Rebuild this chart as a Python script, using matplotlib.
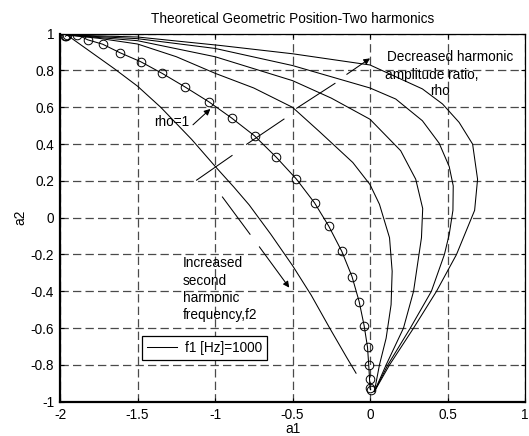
import matplotlib
matplotlib.use("Agg")
import matplotlib.pyplot as plt

plt.rcParams['font.family'] = ['Liberation Sans', 'DejaVu Sans']
plt.rcParams['lines.scale_dashes'] = False

# ---- data: geometric position of the two-harmonic coefficients (a1, a2) ----
# rho = 1 curve (drawn with circle markers at every sample)
a1_rho1 = [-1.965, -1.960, -1.955, -1.888, -1.822, -1.725, -1.614, -1.480, -1.340,
           -1.196, -1.040, -0.893, -0.745, -0.604, -0.477, -0.358, -0.266, -0.182,
           -0.116, -0.070, -0.038, -0.016, -0.008, -0.003, 0.000, 0.004]
a2_rho1 = [0.986, 0.990, 0.992, 0.995, 0.967, 0.943, 0.897, 0.848, 0.784,
           0.712, 0.630, 0.542, 0.445, 0.328, 0.212, 0.081, -0.046, -0.183,
           -0.320, -0.456, -0.586, -0.704, -0.803, -0.876, -0.927, -0.935]

# higher second-harmonic frequency curve (inner)
a1_inner = [-1.955, -1.80, -1.65, -1.50, -1.35, -1.15, -1.00, -0.88, -0.78, -0.64,
            -0.50, -0.38, -0.26, -0.15, -0.09]
a2_inner = [0.993, 0.900, 0.810, 0.715, 0.600, 0.425, 0.280, 0.168, 0.070, -0.090,
            -0.260, -0.420, -0.600, -0.760, -0.845]

# decreasing amplitude ratio curves (outer family)
a1_r2 = [-1.955, -1.75, -1.50, -1.25, -1.00, -0.75, -0.50, -0.325, -0.111, 0.000,
         0.061, 0.126, 0.143, 0.136, 0.104, 0.061, 0.028]
a2_r2 = [0.993, 0.975, 0.944, 0.875, 0.785, 0.705, 0.600, 0.467, 0.300, 0.180,
         0.073, -0.109, -0.291, -0.473, -0.655, -0.800, -0.945]

a1_r3 = [-1.955, -1.50, -1.00, -0.50, -0.25, 0.000, 0.198, 0.295, 0.340, 0.332,
         0.316, 0.281, 0.216, 0.104, 0.028]
a2_r3 = [0.993, 0.962, 0.875, 0.745, 0.650, 0.535, 0.364, 0.209, 0.050, -0.109,
         -0.200, -0.400, -0.600, -0.800, -0.945]

a1_r4 = [-1.955, -1.50, -1.00, -0.50, 0.000, 0.166, 0.338, 0.446, 0.511, 0.537,
         0.535, 0.511, 0.480, 0.396, 0.260, 0.115, 0.028]
a2_r4 = [0.993, 0.973, 0.920, 0.827, 0.705, 0.645, 0.527, 0.405, 0.278, 0.173,
         0.040, -0.091, -0.200, -0.400, -0.600, -0.800, -0.945]

a1_r5 = [-1.955, -1.50, -0.966, -0.50, 0.000, 0.338, 0.468, 0.575, 0.662, 0.694,
         0.675, 0.558, 0.429, 0.281, 0.126, 0.028]
a2_r5 = [0.993, 0.982, 0.936, 0.891, 0.830, 0.700, 0.618, 0.518, 0.400, 0.209,
         0.040, -0.200, -0.400, -0.600, -0.800, -0.945]

x_ticks = [-2, -1.5, -1, -0.5, 0, 0.5, 1]
x_tick_labels = ['-2', '-1.5', '-1', '-0.5', '0', '0.5', '1']
y_ticks = [-1, -0.8, -0.6, -0.4, -0.2, 0, 0.2, 0.4, 0.6, 0.8, 1]
y_tick_labels = ['-1', '-0.8', '-0.6', '-0.4', '-0.2', '0', '0.2', '0.4', '0.6', '0.8', '1']

legend_label = 'f1 [Hz]=1000'
title_text = 'Theoretical Geometric Position-Two harmonics'

FS = 9.8

fig = plt.figure(figsize=(5.29, 4.36), dpi=100)
ax = fig.add_axes([60 / 529, 1 - 401.7 / 436, 465 / 529, 368 / 436])

lw = 0.75
ax.plot(a1_inner, a2_inner, color='k', lw=lw, label=legend_label)
ax.plot(a1_rho1, a2_rho1, color='k', lw=lw, marker='o', markersize=6.2,
        markerfacecolor='none', markeredgecolor='k', markeredgewidth=0.7)
for xs, ys in [(a1_r2, a2_r2), (a1_r3, a2_r3), (a1_r4, a2_r4), (a1_r5, a2_r5)]:
    ax.plot(xs, ys, color='k', lw=lw)

ax.set_xlim(-2, 1)
ax.set_ylim(-1, 1)
ax.set_xticks(x_ticks)
ax.set_xticklabels(x_tick_labels)
ax.set_yticks(y_ticks)
ax.set_yticklabels(y_tick_labels)
ax.tick_params(direction='in', length=3, width=0.8, top=True, right=True,
               labelsize=FS, pad=4.3, colors='k')
ax.grid(True, linestyle=(0, (6, 3)), color='#4a4a4a', linewidth=0.9)
for side in ['left', 'bottom']:
    ax.spines[side].set_linewidth(1.6)
for side in ['top', 'right']:
    ax.spines[side].set_linewidth(0.9)

ax.set_title(title_text, fontsize=FS, pad=7.5)
ax.set_xlabel('a1', fontsize=FS)
ax.set_ylabel('a2', fontsize=FS)
ax.xaxis.set_label_coords(0.5, -0.055)
ax.yaxis.set_label_coords(-0.071, 0.5)

# annotations
arrow_kw = dict(arrowstyle='-|>', mutation_scale=9, lw=0.75, color='k',
                shrinkA=0, shrinkB=0)
ax.text(-1.394, 0.519, 'rho=1', fontsize=FS, ha='left', va='center')
ax.annotate('', xy=(-1.030, 0.591), xytext=(-1.142, 0.505), arrowprops=arrow_kw)

# broken arrow across the rho family
dec_pts = [(-1.119, 0.204), (-0.890, 0.338), (-0.796, 0.399), (-0.555, 0.536),
           (-0.473, 0.595), (-0.226, 0.730), (-0.150, 0.779), (0.000, 0.866)]
for (xa, ya), (xb, yb) in zip(dec_pts[0:-2:2], dec_pts[1:-2:2]):
    ax.plot([xa, xb], [ya, yb], color='k', lw=0.75)
ax.annotate('', xy=dec_pts[-1], xytext=dec_pts[-2], arrowprops=arrow_kw)

ax.text(0.111, 0.875, 'Decreased harmonic', fontsize=FS, ha='left', va='center')
ax.text(0.097, 0.776, 'amplitude ratio,', fontsize=FS, ha='left', va='center')
ax.text(0.387, 0.690, 'rho', fontsize=FS, ha='left', va='center')

# broken arrow for the frequency trend
ax.plot([-0.952, -0.774], [0.1125, -0.090], color='k', lw=0.75)
ax.annotate('', xy=(-0.521, -0.380), xytext=(-0.714, -0.158), arrowprops=arrow_kw)

inc_lines = ['Increased', 'second', 'harmonic', 'frequency,f2']
for i, s in enumerate(inc_lines):
    ax.text(-1.208, -0.248 - 0.0937 * i, s, fontsize=FS, ha='left', va='center')

leg = ax.legend(loc='lower left', bbox_to_anchor=(0.176, 0.113), borderaxespad=0,
                fontsize=FS, fancybox=False, framealpha=1, edgecolor='k',
                borderpad=0.38, handlelength=2.2, handletextpad=0.6)
leg.get_frame().set_linewidth(0.9)

fig.savefig('out.png', dpi=100)
